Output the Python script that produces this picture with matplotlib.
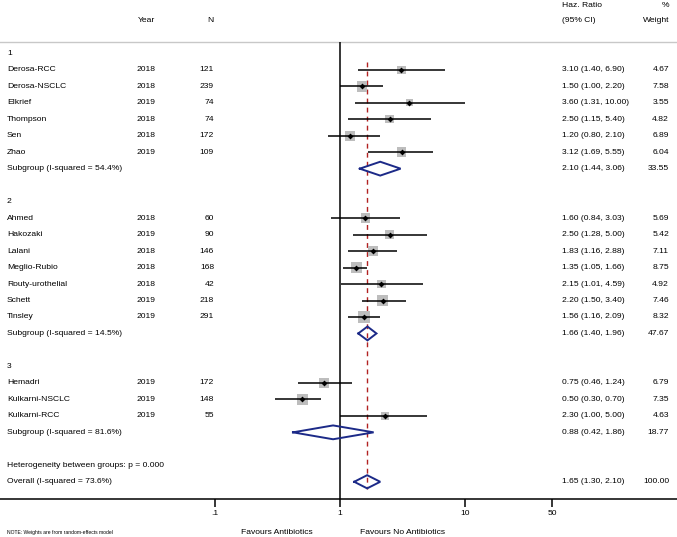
import matplotlib
matplotlib.use("Agg")
import matplotlib.pyplot as plt
import matplotlib.transforms as mtransforms
import numpy as np

plt.rcParams['font.family'] = ['Liberation Sans', 'DejaVu Sans']

# ---------------- data ----------------
group_names = ["1", "2", "3"]

g1_studies = ["Derosa-RCC", "Derosa-NSCLC", "Elkrief", "Thompson", "Sen", "Zhao"]
g1_years = [2018, 2018, 2019, 2018, 2018, 2019]
g1_n = [121, 239, 74, 74, 172, 109]
g1_hr = [3.10, 1.50, 3.60, 2.50, 1.20, 3.12]
g1_lo = [1.40, 1.00, 1.31, 1.15, 0.80, 1.69]
g1_hi = [6.90, 2.20, 10.00, 5.40, 2.10, 5.55]
g1_w = [4.67, 7.58, 3.55, 4.82, 6.89, 6.04]

g2_studies = ["Ahmed", "Hakozaki", "Lalani", "Meglio-Rubio", "Routy-urothelial", "Schett", "Tinsley"]
g2_years = [2018, 2019, 2018, 2018, 2018, 2019, 2019]
g2_n = [60, 90, 146, 168, 42, 218, 291]
g2_hr = [1.60, 2.50, 1.83, 1.35, 2.15, 2.20, 1.56]
g2_lo = [0.84, 1.28, 1.16, 1.05, 1.01, 1.50, 1.16]
g2_hi = [3.03, 5.00, 2.88, 1.66, 4.59, 3.40, 2.09]
g2_w = [5.69, 5.42, 7.11, 8.75, 4.92, 7.46, 8.32]

g3_studies = ["Hemadri", "Kulkarni-NSCLC", "Kulkarni-RCC"]
g3_years = [2019, 2019, 2019]
g3_n = [172, 148, 55]
g3_hr = [0.75, 0.50, 2.30]
g3_lo = [0.46, 0.30, 1.00]
g3_hi = [1.24, 0.70, 5.00]
g3_w = [6.79, 7.35, 4.63]

sub_hr = [2.10, 1.66, 0.88]
sub_lo = [1.44, 1.40, 0.42]
sub_hi = [3.06, 1.96, 1.86]
sub_w = [33.55, 47.67, 18.77]
sub_i2 = [54.4, 14.5, 81.6]

overall_hr = 1.65
overall_lo = 1.30
overall_hi = 2.10
overall_w = 100.00
overall_i2 = 73.6
het_p = 0.000

tick_vals = [0.1, 1, 10, 50]
tick_labels = [".1", "1", "10", "50"]

groups = [
    (g1_studies, g1_years, g1_n, g1_hr, g1_lo, g1_hi, g1_w),
    (g2_studies, g2_years, g2_n, g2_hr, g2_lo, g2_hi, g2_w),
    (g3_studies, g3_years, g3_n, g3_hr, g3_lo, g3_hi, g3_w),
]

# ---------------- layout ----------------
W, H = 677, 537
fig = plt.figure(figsize=(W / 100, H / 100), dpi=100)
ax = fig.add_axes([0, 0, 1, 1])
ax.set_xscale('log')
x_one_px = 340.0
decade_px = 124.8
ax.set_xlim(10 ** (-x_one_px / decade_px), 10 ** ((W - x_one_px) / decade_px))
y0, dy = 53.3, 16.48
ax.set_ylim((H - y0) / dy, -y0 / dy)
ax.axis('off')

def px(x):
    return x / W

tr = mtransforms.blended_transform_factory(fig.transFigure, ax.transData)

FS = 6.1
TXT = '#000000'
SQ = '#bdbdbd'
NAVY = '#1c2a88'
RED = '#b22222'

x_study = px(7)
x_year = px(146)
x_n = px(214)
x_hr = px(562)
x_w = px(669)

# header
ax.text(x_year, -1.96, "Year", transform=tr, ha='center', va='center', fontsize=FS, color=TXT)
ax.text(x_n, -1.96, "N", transform=tr, ha='right', va='center', fontsize=FS, color=TXT)
ax.text(x_hr, -2.93, "Haz. Ratio", transform=tr, ha='left', va='center', fontsize=FS, color=TXT)
ax.text(x_hr, -1.96, "(95% CI)", transform=tr, ha='left', va='center', fontsize=FS, color=TXT)
ax.text(x_w, -2.93, "%", transform=tr, ha='right', va='center', fontsize=FS, color=TXT)
ax.text(x_w, -1.96, "Weight", transform=tr, ha='right', va='center', fontsize=FS, color=TXT)

top_row = -0.70
axis_row = 27.05
ax.plot([0, 1], [top_row, top_row], transform=tr, color='#c8c8c8', lw=1.0, zorder=1)

def diamond(row, est, lo, hi, h=0.42):
    xs = [lo, est, hi, est, lo]
    ys = [row, row - h, row, row + h, row]
    ax.plot(xs, ys, color=NAVY, lw=1.4, zorder=5, solid_joinstyle='miter')

side_k = 3.89  # px per sqrt(weight)
row = 0
for gi, (studies, years, ns, hr, lo, hi, w) in enumerate(groups):
    ax.text(x_study, row, group_names[gi], transform=tr, ha='left', va='center', fontsize=FS, color=TXT)
    row += 1
    rows = np.arange(row, row + len(studies))
    sizes = [(side_k * np.sqrt(wi) * 0.72) ** 2 for wi in w]
    ax.scatter(hr, rows, s=sizes, marker='s', color=SQ, edgecolors='none', zorder=2)
    ax.hlines(rows, lo, hi, color='black', lw=1.1, zorder=3)
    ax.plot(hr, rows, 'D', color='black', ms=3.0, mew=0, zorder=4)
    for r, s, yv, nv, h_, l_, u_, wv in zip(rows, studies, years, ns, hr, lo, hi, w):
        ax.text(x_study, r, s, transform=tr, ha='left', va='center', fontsize=FS, color=TXT)
        ax.text(x_year, r, str(yv), transform=tr, ha='center', va='center', fontsize=FS, color=TXT)
        ax.text(x_n, r, str(nv), transform=tr, ha='right', va='center', fontsize=FS, color=TXT)
        ax.text(x_hr, r, f"{h_:.2f} ({l_:.2f}, {u_:.2f})", transform=tr, ha='left', va='center', fontsize=FS, color=TXT)
        ax.text(x_w, r, f"{wv:.2f}", transform=tr, ha='right', va='center', fontsize=FS, color=TXT)
    row += len(studies)
    diamond(row, sub_hr[gi], sub_lo[gi], sub_hi[gi])
    ax.text(x_study, row, f"Subgroup (I-squared = {sub_i2[gi]:.1f}%)", transform=tr, ha='left', va='center', fontsize=FS, color=TXT)
    ax.text(x_hr, row, f"{sub_hr[gi]:.2f} ({sub_lo[gi]:.2f}, {sub_hi[gi]:.2f})", transform=tr, ha='left', va='center', fontsize=FS, color=TXT)
    ax.text(x_w, row, f"{sub_w[gi]:.2f}", transform=tr, ha='right', va='center', fontsize=FS, color=TXT)
    row += 2

het_row = row
ax.text(x_study, het_row, f"Heterogeneity between groups: p = {het_p:.3f}", transform=tr, ha='left', va='center', fontsize=FS, color=TXT)
ov_row = het_row + 1
diamond(ov_row, overall_hr, overall_lo, overall_hi, h=0.40)
ax.text(x_study, ov_row, f"Overall (I-squared = {overall_i2:.1f}%)", transform=tr, ha='left', va='center', fontsize=FS, color=TXT)
ax.text(x_hr, ov_row, f"{overall_hr:.2f} ({overall_lo:.2f}, {overall_hi:.2f})", transform=tr, ha='left', va='center', fontsize=FS, color=TXT)
ax.text(x_w, ov_row, f"{overall_w:.2f}", transform=tr, ha='right', va='center', fontsize=FS, color=TXT)

# reference lines
ax.vlines(1, top_row, axis_row, color='black', lw=1.1, zorder=3)
ax.vlines(overall_hr, 0.53, ov_row + 0.42, color=RED, lw=1.0, linestyles=(0, (3.5, 3)), zorder=1)

# bottom axis
ax.plot([0, 1], [axis_row, axis_row], transform=tr, color='black', lw=1.1, zorder=3)
ax.vlines(tick_vals, axis_row, axis_row + 0.49, color='black', lw=1.1, zorder=3)
for tv, tl in zip(tick_vals, tick_labels):
    ax.text(tv, 27.95, tl, ha='center', va='center', fontsize=FS, color=TXT)

ax.text(px(313), 29.05, "Favours Antibiotics", transform=tr, ha='right', va='center', fontsize=FS, color=TXT)
ax.text(px(360), 29.05, "Favours No Antibiotics", transform=tr, ha='left', va='center', fontsize=FS, color=TXT)
ax.text(x_study, 29.05, "NOTE: Weights are from random-effects model", transform=tr, ha='left', va='center', fontsize=3.6, color=TXT)

fig.savefig("out.png", dpi=100, facecolor='white')
